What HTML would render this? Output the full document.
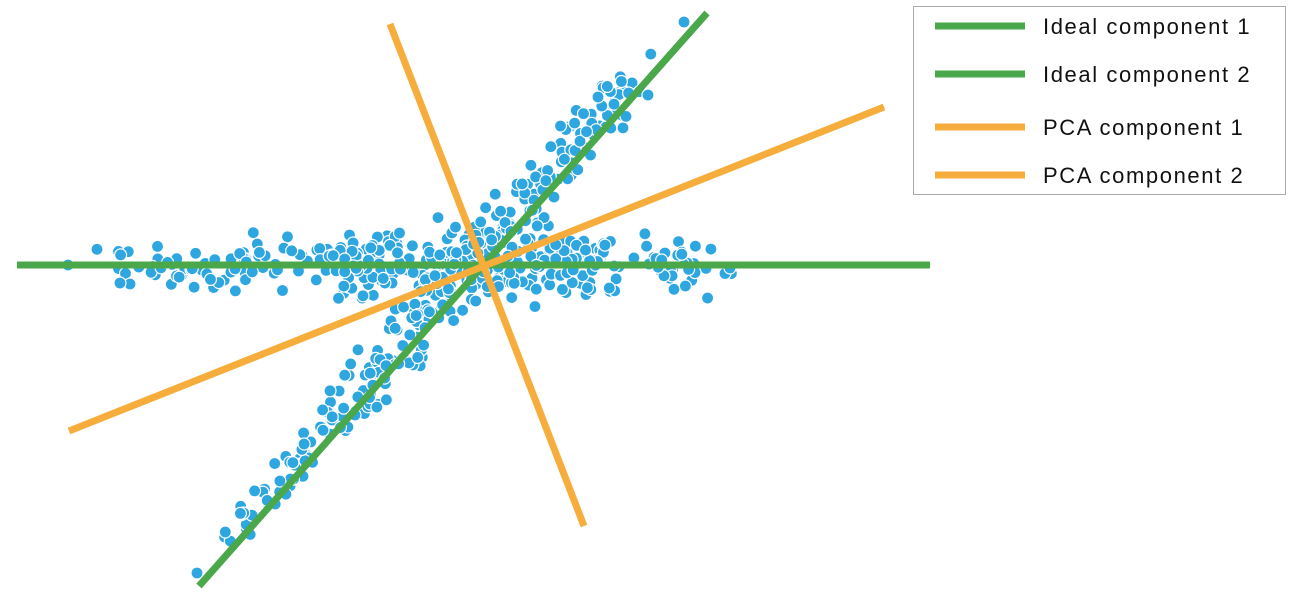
<!DOCTYPE html>
<html><head><meta charset="utf-8"><style>
html,body{margin:0;padding:0;background:#fff;}
svg{display:block;}
text{font-family:"Liberation Sans",sans-serif;font-size:22px;fill:#111;letter-spacing:1.6px;}
</style></head><body>
<svg id="s" width="1300" height="600" viewBox="0 0 1300 600">
<g id="dots" fill="#2ea6df" stroke="#fff" stroke-width="1.2"></g>
<line x1="17" y1="265" x2="930" y2="265" stroke="#4aa84a" stroke-width="7"/>
<line x1="199" y1="586" x2="707" y2="13" stroke="#4aa84a" stroke-width="7"/>
<line x1="69" y1="431" x2="884" y2="107" stroke="#f6ad3c" stroke-width="7"/>
<line x1="390" y1="24" x2="584" y2="526" stroke="#f6ad3c" stroke-width="7"/>
<rect x="913.5" y="6.5" width="372" height="188" fill="#fff" stroke="#aaa" stroke-width="1"/>
<line x1="935" y1="26" x2="1025" y2="26" stroke="#4aa84a" stroke-width="7"/>
<line x1="935" y1="74" x2="1025" y2="74" stroke="#4aa84a" stroke-width="7"/>
<line x1="935" y1="127" x2="1025" y2="127" stroke="#f6ad3c" stroke-width="7"/>
<line x1="935" y1="175" x2="1025" y2="175" stroke="#f6ad3c" stroke-width="7"/>
<text x="1043" y="34">Ideal component 1</text>
<text x="1043" y="82">Ideal component 2</text>
<text x="1043" y="135">PCA component 1</text>
<text x="1043" y="183">PCA component 2</text>
</svg>
<script>
var seed=12345;function r(){seed=(seed*1103515245+12345)%2147483648;return seed/2147483648;}
function g(){return (r()+r()+r()-1.5)/0.5;}
var out=[];
// horizontal band
for(var i=0;i<340;i++){var x=(i%2)?(110+r()*600):(484+g()*150);if(x<68||x>732)continue;var c=1-Math.abs(x-484)/420;var y=265+g()*(8+12*c);out.push([x,y]);}
out.push([68,265],[730,268],[120,283]);
// diagonal band
var ax=197,ay=573,bx=684,by=22,dx=bx-ax,dy=by-ay,L=Math.hypot(dx,dy),nx=-dy/L,ny=dx/L;
for(var i=0;i<300;i++){var t=(i%2)?(0.06+r()*0.84):(0.52+g()*0.2);if(t<0.05||t>0.95)continue;var w=g()*(5+11*(1-Math.abs(t-0.52)*1.8));out.push([ax+dx*t+nx*w,ay+dy*t+ny*w]);}
out.push([197,573],[684,22],[598,97],[648,95]);
var h='';out.forEach(function(p){h+='<circle cx="'+p[0].toFixed(1)+'" cy="'+p[1].toFixed(1)+'" r="6"/>';});
document.getElementById('dots').innerHTML=h;
</script>
</body></html>
